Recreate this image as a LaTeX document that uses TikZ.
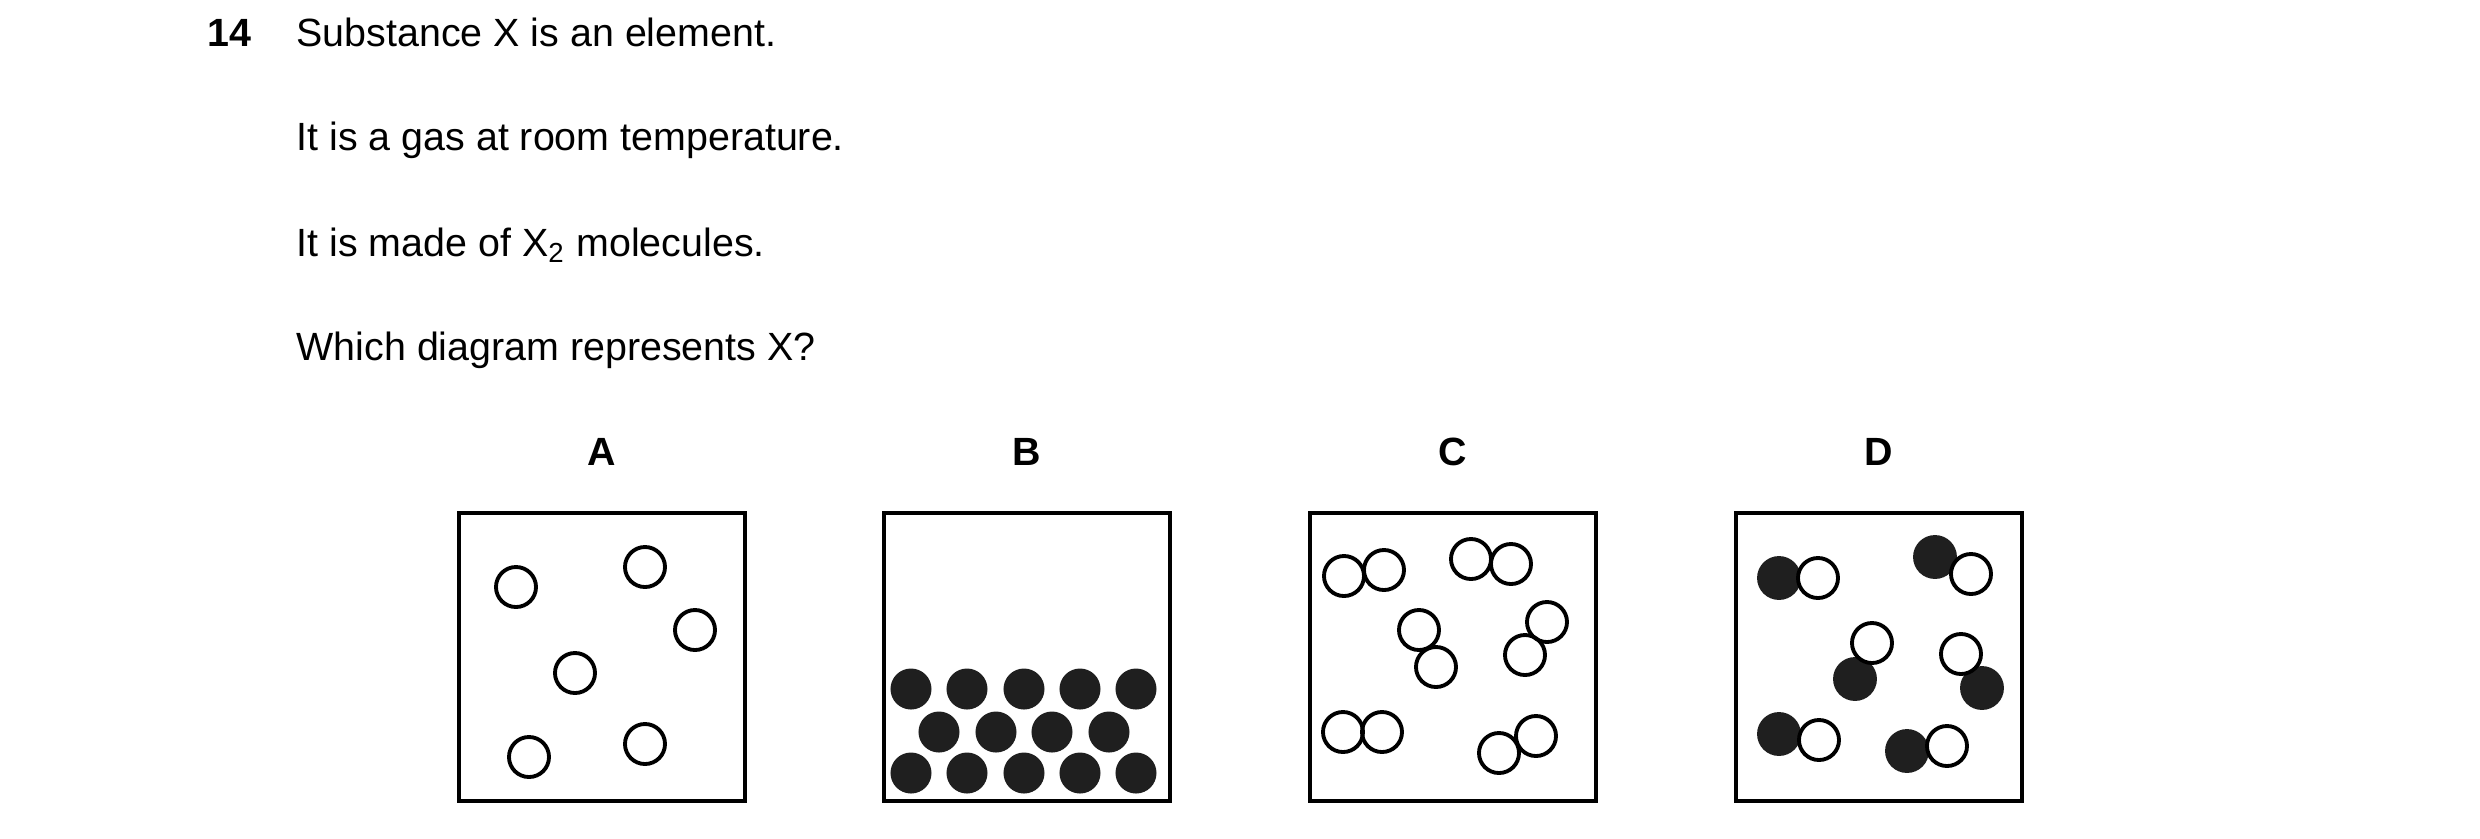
\documentclass[tikz,border=0pt]{standalone}
\usepackage{fontspec}
\setmainfont{Liberation Sans}
\begin{document}
\begin{tikzpicture}[x=0.01cm,y=-0.01cm]
      \tikzset{box/.style={line width=1.1pt},
        open/.style={line width=1.1pt},
        full/.style={fill=black!88,draw=black!88,line width=1.1pt},
        txt/.style={anchor=base west,inner sep=0pt,font=\fontsize{11.2}{13}\selectfont}}
      \useasboundingbox (0,0) rectangle (2480,838) ;
      \node[txt,font=\fontsize{11.2}{13}\selectfont\bfseries] (num) at (207,46) {14} ;
      \node[txt] (l1) at (296,46) {Substance X is an element.} ;
      \node[txt] (l2) at (296,150) {It is a gas at room temperature.} ;
      \node[txt] (l3) at (296,256) {It is made of X\textsubscript{2} molecules.} ;
      \node[txt] (l4) at (296,360) {Which diagram represents X?} ;
      % boxes and labels
      \foreach \n/\x in {A/459,B/884,C/1310,D/1736} {
        \draw[box] (\x,513) rectangle ++(286,288) ;
        \node[anchor=base,inner sep=0pt,font=\fontsize{11.2}{13}\selectfont\bfseries] %
        (lab\n) at (\x+143,465) {\n} ;
      }
      % A
      \foreach \x/\y in {516/587,645/567,695/630,575/673,529/757,645/744}
        \draw[open] (\x,\y) circle[radius=0.2cm] ;
      % B
      \foreach \x in {911,967,1024,1080,1136} {
        \fill[black!88] (\x,689) circle[radius=0.205cm] ;
        \fill[black!88] (\x,773) circle[radius=0.205cm] ;
      }
      \foreach \x in {939,996,1052,1109}
        \fill[black!88] (\x,732) circle[radius=0.205cm] ;
      % C
      \foreach \x/\y in {1344/576,1384/570,1471/559,1511/564,1419/630,1436/667,%
        1547/622,1525/655,1343/732,1382/732,1499/753,1536/736}
        \draw[open] (\x,\y) circle[radius=0.2cm] ;
      % D
      \foreach \a/\b/\c/\d in {1779/578/1818/578,1935/557/1971/574,1855/679/1872/643,%
        1982/688/1961/654,1779/734/1819/740,1907/751/1947/746} {
        \draw[full] (\a,\b) circle[radius=0.2cm] ;
        \draw[open,fill=white] (\c,\d) circle[radius=0.2cm] ;
      }
    \end{tikzpicture}
\end{document}
